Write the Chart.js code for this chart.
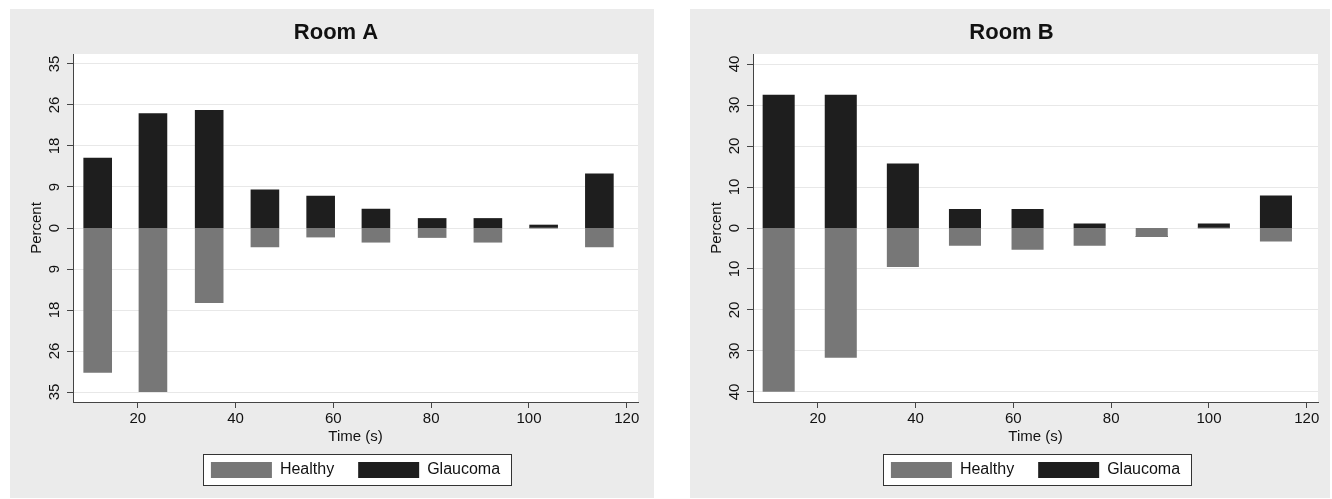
<!DOCTYPE html>
<html>
<head>
<meta charset="utf-8">
<script src="https://cdn.jsdelivr.net/npm/chart.js@4.4.1/dist/chart.umd.min.js"></script>
<style>
  body { margin: 0; background: #fff; width: 1332px; height: 499px; overflow: hidden; }
  .panel { position: absolute; top: 9px; height: 489px; background: #ebebeb; }
  #panelA { left: 10px; width: 644px; }
  #panelB { left: 690px; width: 640px; }
  canvas { display: block; }
</style>
</head>
<body>
<div class="panel" id="panelA"><canvas id="chartA" width="644" height="489"></canvas></div>
<div class="panel" id="panelB"><canvas id="chartB" width="640" height="489"></canvas></div>
<script>
// Room A (time bin centres, percent of each group)
const timeA = [11.8, 23.1, 34.6, 46.0, 57.4, 68.7, 80.2, 91.6, 103.0, 114.4];
const healthyA = [30.8, 34.9, 15.9, 4.0, 1.9, 3.0, 2.0, 3.0, 0, 4.0];
const glaucomaA = [14.9, 24.4, 25.1, 8.1, 6.8, 4.0, 2.0, 2.0, 0.6, 11.5];

// Room B
const timeB = [12.0, 24.7, 37.4, 50.1, 62.9, 75.6, 88.3, 101.0, 113.7];
const healthyB = [39.8, 31.5, 9.4, 4.2, 5.2, 4.2, 2.1, 0, 3.2];
const glaucomaB = [32.4, 32.4, 15.6, 4.5, 4.5, 1.0, 0, 1.0, 7.8];

// axis ticks (healthy is drawn below zero, labels show absolute values)
const xTicks = [20, 40, 60, 80, 100, 120];
const yTicksA = [-35, -26.25, -17.5, -8.75, 0, 8.75, 17.5, 26.25, 35];
const yLabelsA = ['35', '26', '18', '9', '0', '9', '18', '26', '35'];
const yTicksB = [-40, -30, -20, -10, 0, 10, 20, 30, 40];
const yLabelsB = ['40', '30', '20', '10', '0', '10', '20', '30', '40'];

Chart.defaults.font.family = "'Liberation Sans', Arial, Helvetica, sans-serif";
Chart.defaults.color = '#111';

// white plot area + framed white legend box
const panelDecor = {
    id: 'panelDecor',
    beforeDraw(chart) {
        const ctx = chart.ctx;
        const a = chart.chartArea;
        ctx.save();
        ctx.fillStyle = '#fff';
        ctx.fillRect(a.left, a.top, a.right - a.left, a.bottom - a.top);

        const boxes = chart.legend.legendHitBoxes;
        if (boxes && boxes.length) {
            const first = boxes[0];
            const last = boxes[boxes.length - 1];
            const x0 = Math.round(first.left - 8) + 0.5;
            const x1 = Math.round(last.left + last.width + 11) + 0.5;
            const y0 = Math.round(first.top - 8) + 0.5;
            ctx.fillRect(x0, y0, x1 - x0, 31);
            ctx.strokeStyle = '#333';
            ctx.lineWidth = 1;
            ctx.strokeRect(x0, y0, x1 - x0, 31);
        }
        ctx.restore();
    }
};

function makeChart(id, title, times, healthy, glaucoma, yTicks, yLabels, yLimit, padLeft, padRight) {
    const ctx = document.getElementById(id).getContext('2d');

    new Chart(ctx, {
        type: 'bar',
        data: {
            datasets: [{
                label: 'Healthy',
                data: times.map((t, i) => ({ x: t, y: -healthy[i] })),
                backgroundColor: '#777777',
                barPercentage: 0.5,
                categoryPercentage: 1,
                inflateAmount: 0.5
            }, {
                label: 'Glaucoma',
                data: times.map((t, i) => ({ x: t, y: glaucoma[i] })),
                backgroundColor: '#1e1e1e',
                barPercentage: 0.5,
                categoryPercentage: 1,
                inflateAmount: 0.5
            }]
        },
        options: {
            responsive: false,
            animation: false,
            layout: { padding: { left: padLeft, right: padRight, top: 0, bottom: 10 } },
            plugins: {
                title: {
                    display: true,
                    text: title,
                    color: '#111',
                    font: { size: 22, weight: 'bold', lineHeight: '26px' },
                    padding: { top: 11, bottom: 8 }
                },
                legend: {
                    position: 'bottom',
                    fullSize: false,
                    labels: {
                        boxWidth: 61,
                        boxHeight: 16,
                        padding: 24,
                        color: '#111',
                        font: { size: 16 }
                    }
                },
                tooltip: { enabled: false }
            },
            scales: {
                x: {
                    type: 'linear',
                    min: 6.75,
                    max: 122.3,
                    stacked: true,
                    offset: false,
                    afterBuildTicks: s => { s.ticks = xTicks.map(v => ({ value: v })); },
                    afterFit: s => { s.height = 36; },
                    ticks: { padding: 2, maxRotation: 0, autoSkip: false, color: '#111', font: { size: 15 } },
                    grid: { offset: false, drawOnChartArea: false, tickColor: '#444', tickLength: 6 },
                    border: { color: '#444' },
                    title: {
                        display: true,
                        text: 'Time (s)',
                        color: '#111',
                        font: { size: 15 },
                        padding: { top: 0, bottom: -8 }
                    }
                },
                y: {
                    min: -yLimit,
                    max: yLimit,
                    stacked: true,
                    afterBuildTicks: s => { s.ticks = yTicks.map(v => ({ value: v })); },
                    afterFit: s => { s.width = 63 - padLeft; },
                    ticks: {
                        callback: (v, i) => yLabels[i],
                        minRotation: 90,
                        maxRotation: 90,
                        crossAlign: 'center',
                        padding: 4,
                        color: '#111',
                        font: { size: 15 }
                    },
                    grid: { color: '#e8e8e8', tickColor: '#444', tickLength: 6 },
                    border: { color: '#444' },
                    title: {
                        display: true,
                        text: 'Percent',
                        color: '#111',
                        font: { size: 15 },
                        padding: { top: 18 - padLeft, bottom: 0 }
                    }
                }
            }
        },
        plugins: [panelDecor]
    });
}

makeChart('chartA', 'Room A', timeA, healthyA, glaucomaA, yTicksA, yLabelsA, 37.13, 24, 16);
makeChart('chartB', 'Room B', timeB, healthyB, glaucomaB, yTicksB, yLabelsB, 42.44, 15, 12);
</script>
</body>
</html>
